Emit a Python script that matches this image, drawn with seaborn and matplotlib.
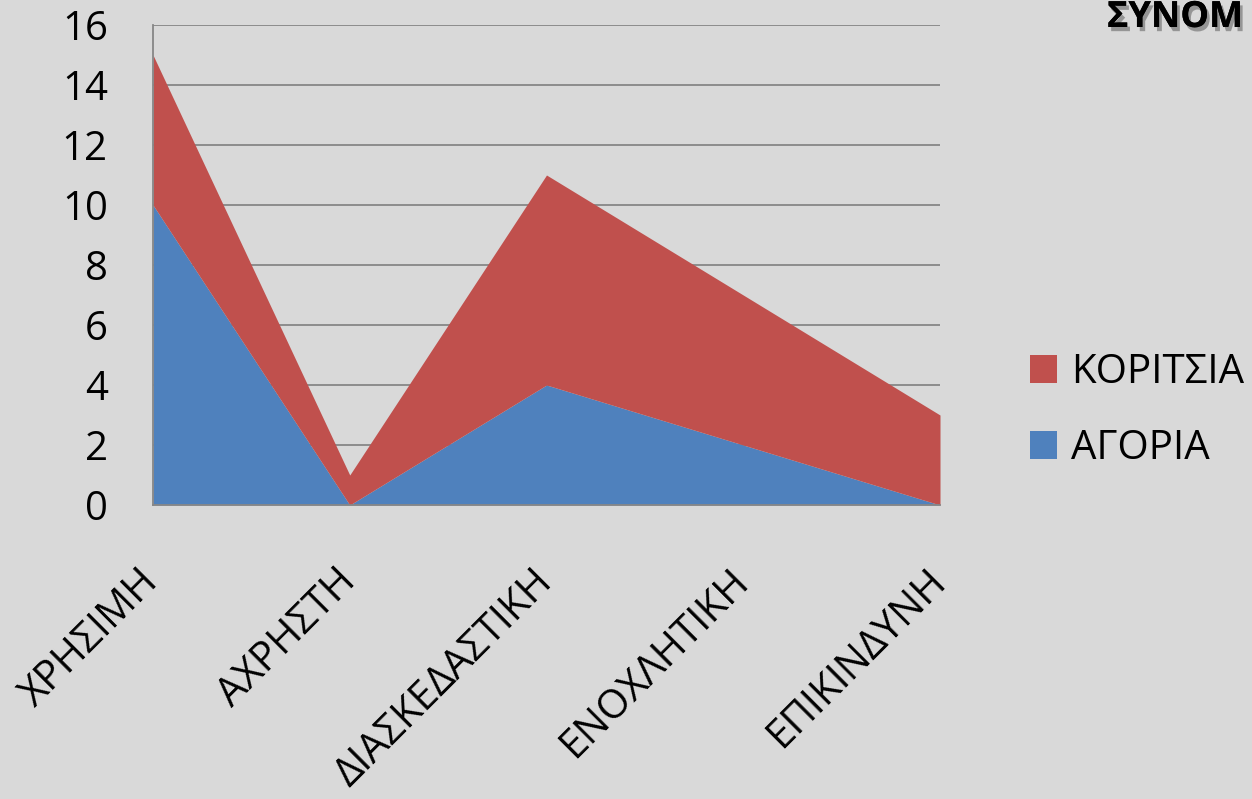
import matplotlib
matplotlib.use("Agg")
import matplotlib.pyplot as plt
import matplotlib.patheffects as pe
import seaborn as sns
import pandas as pd

categories = ["ΧΡΗΣΙΜΗ", "ΑΧΡΗΣΤΗ", "ΔΙΑΣΚΕΔΑΣΤΙΚΗ", "ΕΝΟΧΛΗΤΙΚΗ", "ΕΠΙΚΙΝΔΥΝΗ"]
agoria = [10, 0, 4, 2, 0]
koritsia = [5, 1, 7, 5, 3]
series_names = ["ΑΓΟΡΙΑ", "ΚΟΡΙΤΣΙΑ"]
title_text = "ΣΥΝΟΜ"

df = pd.DataFrame({"cat": categories, series_names[0]: agoria, series_names[1]: koritsia})

sns.set_theme(style="white")
plt.rcParams["font.family"] = ["Open Sans", "DejaVu Sans"]
plt.rcParams["text.color"] = "black"
plt.rcParams["xtick.color"] = "black"
plt.rcParams["ytick.color"] = "black"

bg = "#D9D9D9"
blue = "#4F81BD"
red = "#C0504D"
grid_c = "#878787"
fs = 29

fig = plt.figure(figsize=(12.52, 7.99), dpi=100, facecolor=bg)
ax = fig.add_axes([153 / 1252, 1 - 505 / 799, (940 - 153) / 1252, (505 - 25) / 799])
ax.set_facecolor(bg)

x = list(range(len(categories)))
ax.stackplot(x, df[series_names[0]], df[series_names[1]],
             colors=[blue, red], labels=series_names, linewidth=0, zorder=3)

ax.set_xlim(0, len(categories) - 1)
ax.set_ylim(0, 16)
ax.set_yticks(range(0, 17, 2))
ax.set_xticks(x)
ax.set_xticklabels(categories, rotation=45, ha="right", va="center",
                   rotation_mode="anchor", fontsize=fs, color="black")
ax.tick_params(axis="y", labelsize=fs, labelcolor="black", length=11.5,
               color=grid_c, width=1.3, pad=21)
ax.tick_params(axis="x", length=11, color=grid_c, width=1.3, pad=40)

for v in range(2, 17, 2):
    ax.axhline(v, color=grid_c, lw=1.3, zorder=1)

for s in ["top", "right"]:
    ax.spines[s].set_visible(False)
for s in ["left", "bottom"]:
    ax.spines[s].set_color(grid_c)
    ax.spines[s].set_linewidth(1.3)
    ax.spines[s].set_zorder(4)

handles, labels = ax.get_legend_handles_labels()
leg = fig.legend(handles[::-1], labels[::-1], loc="center left",
                 bbox_to_anchor=(1030 / 1252, 1 - 411 / 799), frameon=False,
                 fontsize=fs, handlelength=0.67, handleheight=0.67,
                 labelspacing=0.88, handletextpad=0.34, borderaxespad=0,
                 borderpad=0)
for t in leg.get_texts():
    t.set_color("black")

fig.text(1107 / 1252, 1 - 27 / 799, title_text, fontsize=26, fontweight="bold",
         va="baseline", ha="left", color="black",
         path_effects=[pe.withSimplePatchShadow(offset=(2, -3), shadow_rgbFace="#444444", alpha=0.45),
                       pe.Normal()])

fig.savefig("out.png", dpi=100, facecolor=bg)
